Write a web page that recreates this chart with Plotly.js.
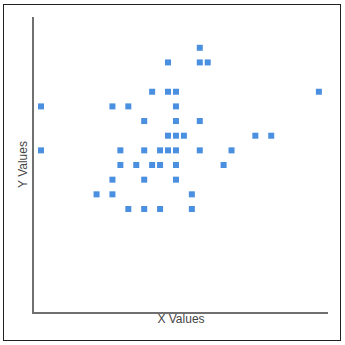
<!DOCTYPE html>
<html>
<head>
<meta charset="utf-8">
<script src="https://cdn.plot.ly/plotly-3.0.1.min.js"></script>
<style>
html,body{margin:0;padding:0;background:#fff;}
#wrap{position:relative;width:345px;height:345px;}
#chart{width:345px;height:345px;}
#frame{position:absolute;left:3px;top:4px;width:336px;height:335px;border:1.5px solid #222;pointer-events:none;}
</style>
</head>
<body>
<div id="wrap"><div id="chart"></div><div id="frame"></div></div>
<script>
const xValues = [20, 16, 20, 21, 14, 16, 17, 35, 0, 9, 11, 17, 13, 17, 20, 16, 17, 18, 27, 29,
  0, 10, 13, 15, 16, 17, 20, 24, 10, 12, 14, 15, 17, 23, 9, 13, 17, 7, 9, 19, 11, 13, 15, 19];
const yValues = [11, 10, 10, 10, 8, 8, 8, 8, 7, 7, 7, 7, 6, 6, 6, 5, 5, 5, 5, 5,
  4, 4, 4, 4, 4, 4, 4, 4, 3, 3, 3, 3, 3, 3, 2, 2, 2, 1, 1, 1, 0, 0, 0, 0];
const xTitle = 'X Values';
const yTitle = 'Y Values';

Plotly.newPlot('chart', [{
  type: 'scatter', mode: 'markers',
  x: xValues, y: yValues,
  marker: {symbol: 'square', size: 6, color: '#4a8fe0'},
  hoverinfo: 'none'
}], {
  width: 345, height: 345,
  margin: {l: 34, r: 17, t: 17, b: 33},
  paper_bgcolor: '#fff', plot_bgcolor: '#fff',
  showlegend: false,
  xaxis: {range: [-0.88, 36.15], showline: true, linecolor: '#707070', linewidth: 2,
    showgrid: false, zeroline: false, showticklabels: false, ticks: '',
    title: {text: xTitle, font: {family: 'Liberation Sans, Arial, sans-serif', size: 12, color: '#444'}, standoff: 2}},
  yaxis: {range: [-7.03, 13.1], showline: true, linecolor: '#707070', linewidth: 2,
    showgrid: false, zeroline: false, showticklabels: false, ticks: '',
    title: {text: yTitle, font: {family: 'Liberation Sans, Arial, sans-serif', size: 12, color: '#444'}, standoff: 2}}
}, {staticPlot: true});
</script>
</body>
</html>
